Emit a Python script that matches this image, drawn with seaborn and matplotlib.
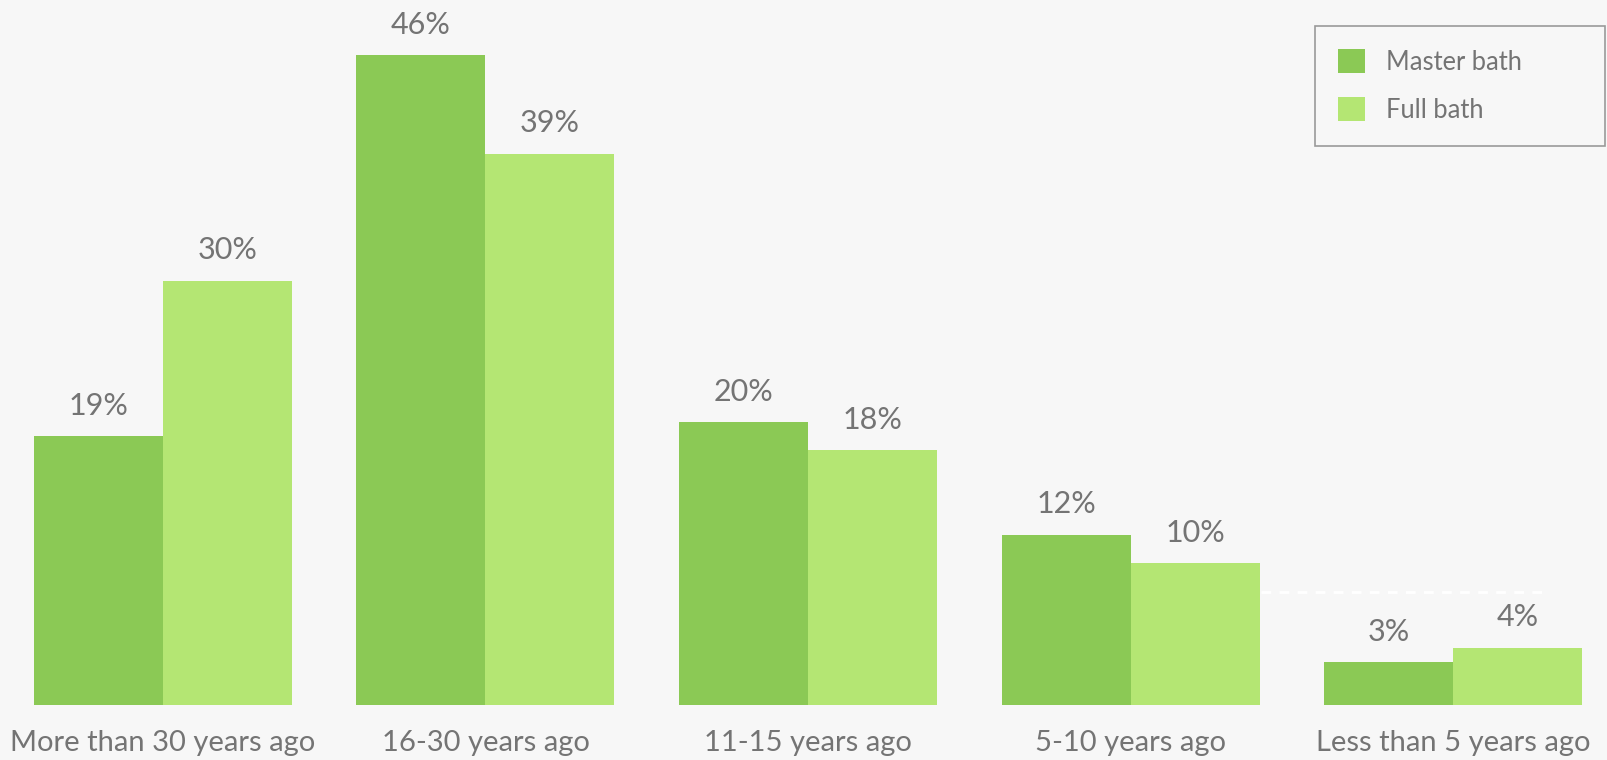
import matplotlib
matplotlib.use("Agg")
import matplotlib.pyplot as plt
import seaborn as sns
import pandas as pd

# Survey results: when the bathroom was last remodeled
categories = ["More than 30 years ago", "16-30 years ago", "11-15 years ago",
              "5-10 years ago", "Less than 5 years ago"]
master_bath = [19, 46, 20, 12, 3]
full_bath = [30, 39, 18, 10, 4]
series_names = ["Master bath", "Full bath"]

BG = "#f7f7f7"
TEXT = "#747474"
palette = ["#8bc955", "#b4e673"]

df = pd.DataFrame({
    "period": categories * 2,
    "share": master_bath + full_bath,
    "room": [series_names[0]] * len(categories) + [series_names[1]] * len(categories),
})

sns.set_theme(style="white")
plt.rcParams["font.family"] = ["Lato", "DejaVu Sans"]

fig = plt.figure(figsize=(16.08, 7.6), dpi=100, facecolor=BG)
ax = fig.add_axes([0.0, 0.073, 1.0, 0.923])
ax.set_facecolor(BG)

sns.barplot(data=df, x="period", y="share", hue="room", order=categories,
            hue_order=series_names, palette=palette, width=0.8,
            linewidth=0, saturation=1, ax=ax, zorder=2)

# faint white dashed reference line on the right side
ax.axhline(8, xmin=0.784, xmax=0.963, color="white", linewidth=2,
           dashes=(3.5, 3), zorder=1)

for cont in ax.containers:
    ax.bar_label(cont, fmt="%g%%", padding=12, fontsize=22, color=TEXT)

ax.set_xlim(-0.505, 4.48)
ax.set_ylim(0, 49.7)
ax.set_xlabel("")
ax.set_ylabel("")
ax.set_yticks([])
ax.tick_params(axis="x", length=0, pad=18, labelsize=21, labelcolor=TEXT)
for s in ax.spines.values():
    s.set_visible(False)

leg = ax.legend(loc="upper left", bbox_to_anchor=(0.8176, 0.5, 0.1805, 0.466),
                bbox_transform=fig.transFigure, mode="expand",
                fontsize=18.4, frameon=True, fancybox=False, handlelength=1.08,
                handleheight=1.08, handletextpad=0.8, labelspacing=0.87,
                borderpad=0.9, borderaxespad=0)
for t in leg.get_texts():
    t.set_color(TEXT)
frame = leg.get_frame()
frame.set_facecolor(BG)
frame.set_edgecolor("#9a9a9a")
frame.set_linewidth(1.2)
frame.set_alpha(1)

fig.savefig("out.png", dpi=100, facecolor=BG)
